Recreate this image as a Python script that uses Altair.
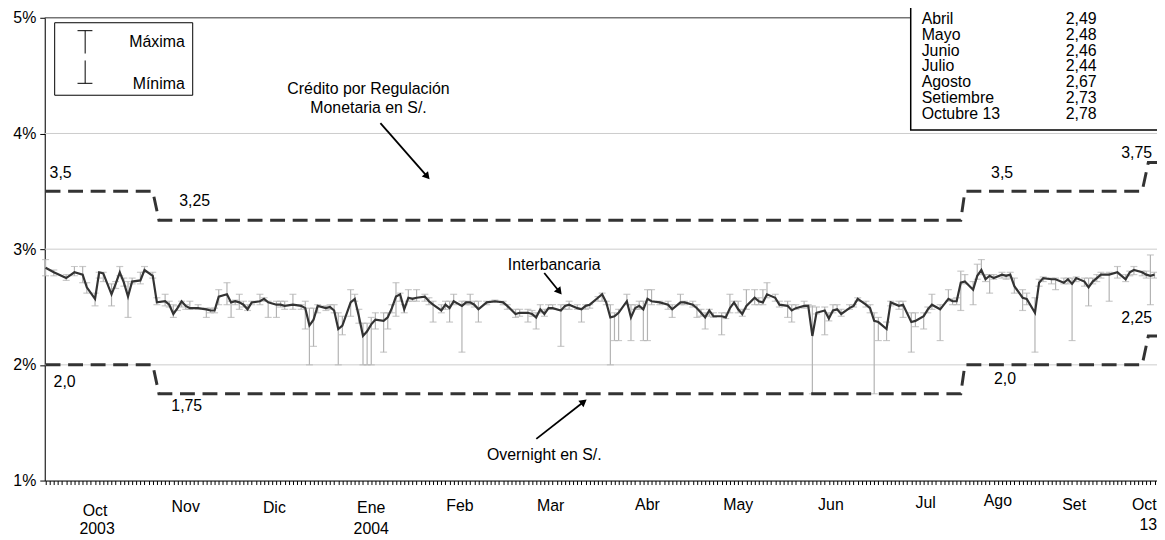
import math
import altair as alt
import pandas as pd

FONT = "Liberation Sans"

# business-day index of each observation (late Sep 2003 - 13 Oct 2004)
days = [0, 2, 5, 7, 9, 10, 12, 13, 14, 16, 17, 18, 19, 20, 21, 23, 24, 26, 27, 29,
        30, 31, 32, 33, 34, 35, 37, 39, 40, 41, 42, 44, 45, 46, 47, 48, 49, 50, 52, 53,
        54, 56, 57, 58, 60, 62, 63, 64, 65, 66, 68, 69, 70, 71, 72, 74, 75, 76, 77, 78,
        79, 80, 82, 83, 84, 85, 86, 87, 88, 89, 90, 92, 93, 94, 96, 97, 98, 99, 101, 102,
        103, 104, 105, 107, 109, 111, 112, 114, 115, 117, 118, 119, 120, 121, 122, 123, 125, 126, 127, 129,
        130, 131, 132, 134, 135, 136, 137, 138, 139, 141, 142, 143, 144, 145, 146, 147, 149, 151, 152, 154,
        155, 157, 158, 159, 160, 161, 162, 164, 165, 166, 167, 168, 169, 170, 172, 173, 174, 175, 177, 178,
        180, 181, 182, 184, 185, 186, 187, 189, 190, 191, 192, 193, 195, 196, 197, 199, 200, 201, 202, 204,
        205, 207, 208, 210, 211, 213, 214, 215, 217, 219, 220, 221, 222, 223, 225, 226, 227, 228, 229, 230,
        232, 233, 234, 235, 237, 238, 240, 241, 242, 244, 245, 247, 248, 249, 250, 252, 253, 254, 255, 256,
        258, 260, 262, 263, 264, 266, 267, 268, 269]
mean = [2.84, 2.80, 2.75, 2.80, 2.78, 2.67, 2.57, 2.80, 2.79, 2.61, 2.70, 2.80, 2.71, 2.59, 2.72, 2.73, 2.82, 2.77, 2.54, 2.55,
        2.52, 2.44, 2.49, 2.55, 2.51, 2.49, 2.49, 2.48, 2.47, 2.47, 2.59, 2.61, 2.54, 2.55, 2.54, 2.52, 2.48, 2.54, 2.55, 2.57,
        2.54, 2.52, 2.52, 2.51, 2.52, 2.51, 2.49, 2.34, 2.39, 2.51, 2.49, 2.50, 2.47, 2.31, 2.34, 2.54, 2.57, 2.42, 2.25, 2.29,
        2.35, 2.39, 2.38, 2.41, 2.49, 2.59, 2.61, 2.48, 2.58, 2.57, 2.58, 2.59, 2.55, 2.52, 2.47, 2.52, 2.49, 2.55, 2.51, 2.54,
        2.54, 2.52, 2.48, 2.54, 2.55, 2.54, 2.51, 2.44, 2.45, 2.45, 2.44, 2.41, 2.48, 2.44, 2.49, 2.49, 2.47, 2.51, 2.52, 2.49,
        2.48, 2.51, 2.52, 2.58, 2.61, 2.54, 2.41, 2.42, 2.45, 2.55, 2.41, 2.49, 2.51, 2.48, 2.57, 2.55, 2.54, 2.52, 2.48, 2.54,
        2.54, 2.52, 2.49, 2.45, 2.41, 2.47, 2.42, 2.42, 2.41, 2.49, 2.54, 2.48, 2.44, 2.51, 2.58, 2.55, 2.54, 2.61, 2.58, 2.52,
        2.51, 2.47, 2.49, 2.51, 2.51, 2.25, 2.45, 2.47, 2.40, 2.47, 2.48, 2.44, 2.49, 2.51, 2.57, 2.52, 2.49, 2.38, 2.37, 2.31,
        2.54, 2.51, 2.52, 2.37, 2.38, 2.42, 2.48, 2.52, 2.48, 2.57, 2.55, 2.55, 2.71, 2.72, 2.65, 2.77, 2.82, 2.74, 2.77, 2.75,
        2.78, 2.77, 2.78, 2.68, 2.58, 2.57, 2.45, 2.71, 2.75, 2.74, 2.74, 2.71, 2.74, 2.70, 2.75, 2.72, 2.67, 2.72, 2.75, 2.78,
        2.78, 2.80, 2.74, 2.80, 2.82, 2.80, 2.78, 2.77, 2.78]
high = [2.91, 2.82, 2.78, 2.85, 2.85, 2.71, 2.62, 2.80, 2.80, 2.70, 2.72, 2.85, 2.75, 2.72, 2.75, 2.80, 2.85, 2.80, 2.58, 2.61,
        2.55, 2.52, 2.51, 2.55, 2.52, 2.55, 2.52, 2.49, 2.49, 2.49, 2.65, 2.71, 2.55, 2.56, 2.61, 2.55, 2.52, 2.55, 2.61, 2.58,
        2.55, 2.55, 2.55, 2.55, 2.61, 2.52, 2.55, 2.49, 2.49, 2.52, 2.51, 2.52, 2.52, 2.45, 2.42, 2.65, 2.61, 2.48, 2.36, 2.36,
        2.41, 2.45, 2.45, 2.45, 2.52, 2.71, 2.62, 2.52, 2.65, 2.58, 2.65, 2.61, 2.58, 2.55, 2.52, 2.55, 2.55, 2.61, 2.55, 2.55,
        2.61, 2.55, 2.55, 2.55, 2.56, 2.55, 2.52, 2.48, 2.48, 2.48, 2.47, 2.45, 2.52, 2.48, 2.52, 2.52, 2.52, 2.52, 2.55, 2.52,
        2.49, 2.52, 2.52, 2.59, 2.62, 2.55, 2.52, 2.45, 2.48, 2.61, 2.52, 2.52, 2.55, 2.55, 2.65, 2.65, 2.55, 2.55, 2.52, 2.61,
        2.55, 2.55, 2.52, 2.48, 2.45, 2.48, 2.45, 2.45, 2.45, 2.61, 2.55, 2.55, 2.48, 2.65, 2.65, 2.58, 2.65, 2.71, 2.61, 2.55,
        2.55, 2.52, 2.52, 2.55, 2.52, 2.51, 2.50, 2.50, 2.45, 2.52, 2.52, 2.48, 2.52, 2.52, 2.58, 2.55, 2.52, 2.45, 2.41, 2.37,
        2.55, 2.55, 2.55, 2.45, 2.45, 2.45, 2.50, 2.61, 2.52, 2.65, 2.57, 2.58, 2.81, 2.78, 2.72, 2.87, 2.91, 2.78, 2.78, 2.78,
        2.80, 2.78, 2.80, 2.75, 2.65, 2.62, 2.58, 2.74, 2.76, 2.75, 2.75, 2.75, 2.75, 2.75, 2.76, 2.75, 2.75, 2.75, 2.78, 2.80,
        2.80, 2.85, 2.78, 2.81, 2.85, 2.81, 2.81, 2.95, 2.80]
low = [2.77, 2.77, 2.73, 2.77, 2.71, 2.62, 2.51, 2.75, 2.72, 2.51, 2.66, 2.77, 2.68, 2.41, 2.70, 2.70, 2.80, 2.75, 2.52, 2.51,
       2.50, 2.41, 2.47, 2.50, 2.48, 2.48, 2.48, 2.41, 2.45, 2.45, 2.52, 2.52, 2.41, 2.52, 2.48, 2.50, 2.47, 2.52, 2.52, 2.55,
       2.41, 2.41, 2.50, 2.48, 2.48, 2.48, 2.31, 2.00, 2.16, 2.45, 2.47, 2.48, 2.45, 2.00, 2.26, 2.42, 2.55, 2.36, 2.00, 2.00,
       2.00, 2.31, 2.11, 2.31, 2.45, 2.42, 2.55, 2.45, 2.55, 2.55, 2.55, 2.55, 2.52, 2.37, 2.45, 2.48, 2.37, 2.52, 2.11, 2.52,
       2.52, 2.50, 2.37, 2.52, 2.54, 2.52, 2.48, 2.41, 2.42, 2.37, 2.42, 2.31, 2.45, 2.42, 2.48, 2.48, 2.16, 2.48, 2.48, 2.48,
       2.37, 2.48, 2.49, 2.55, 2.55, 2.52, 2.00, 2.21, 2.21, 2.52, 2.21, 2.48, 2.48, 2.21, 2.21, 2.52, 2.52, 2.48, 2.41, 2.52,
       2.52, 2.50, 2.41, 2.42, 2.31, 2.42, 2.41, 2.26, 2.40, 2.45, 2.52, 2.45, 2.42, 2.48, 2.52, 2.52, 2.52, 2.58, 2.55, 2.50,
       2.41, 2.37, 2.48, 2.49, 2.50, 1.75, 2.44, 2.26, 2.38, 2.45, 2.47, 2.42, 2.48, 2.50, 2.55, 2.50, 2.45, 1.75, 2.21, 2.21,
       2.51, 2.48, 2.41, 2.11, 2.33, 2.31, 2.45, 2.48, 2.21, 2.55, 2.52, 2.52, 2.47, 2.70, 2.52, 2.74, 2.78, 2.72, 2.62, 2.74,
       2.75, 2.74, 2.75, 2.62, 2.47, 2.52, 2.11, 2.68, 2.72, 2.70, 2.65, 2.70, 2.70, 2.21, 2.72, 2.68, 2.51, 2.70, 2.72, 2.75,
       2.55, 2.75, 2.72, 2.77, 2.78, 2.77, 2.75, 2.52, 2.75]

# corridor of BCRP rates (step changes)
policy_days = [0, 26, 27.5, 222, 223, 266, 267.5, 275]
upper_rate = [3.5, 3.5, 3.25, 3.25, 3.5, 3.5, 3.75, 3.75]
lower_rate = [2.0, 2.0, 1.75, 1.75, 2.0, 2.0, 2.25, 2.25]

# monthly averages table (top right)
table_months = ["Abril", "Mayo", "Junio", "Julio", "Agosto", "Setiembre", "Octubre 13"]
table_values = ["2,49", "2,48", "2,46", "2,44", "2,67", "2,73", "2,78"]

# month labels of the x axis
month_labels = ["Oct", "Nov", "Dic", "Ene", "Feb", "Mar", "Abr", "May", "Jun", "Jul", "Ago", "Set", "Oct"]
month_days = [12, 34, 55.5, 79, 100.5, 122.5, 146, 168, 190.5, 213.5, 231, 249.5, 266.5]
year_labels = ["2003", "2004", "13"]
year_days = [12.5, 79, 267.5]

W, H = 1120, 466
XMIN, XMAX, YMIN, YMAX = -0.2, 269.6, 1, 5
xs = alt.Scale(domain=[XMIN, XMAX], nice=False, zero=False)
ys = alt.Scale(domain=[YMIN, YMAX], nice=False, zero=False)


def pv(py):
    """plot-pixel y -> value on the y scale (for labels placed below the axis)"""
    return YMAX - py * (YMAX - YMIN) / H


X_AX = alt.Axis(values=list(range(270)), labels=False, tickSize=4, tickColor="black",
                domainColor="black", grid=False, tickWidth=1, title=None)
Y_AX = alt.Axis(values=[1, 2, 3, 4, 5], labelExpr="datum.value + '%'", tickSize=5,
                tickColor="black", domainColor="black", grid=False, labelFontSize=16,
                labelFont=FONT, labelColor="black", labelPadding=4, title=None)


def X(f):
    return alt.X(f, type="quantitative", scale=xs, axis=X_AX)


def Y(f):
    return alt.Y(f, type="quantitative", scale=ys, axis=Y_AX)


EB = "#b3b3b3"
DK = "#333333"
one = alt.Data(values=[{}])


def ptext(s, x, y, align="center", size=16):
    return alt.Chart(one).mark_text(text=s, align=align, baseline="middle", fontSize=size,
                                    font=FONT, color="black").encode(x=alt.value(x), y=alt.value(y))


def pline(x1, y1, x2, y2, color="black", width=1.0):
    return alt.Chart(one).mark_rule(color=color, strokeWidth=width).encode(
        x=alt.value(x1), y=alt.value(y1), x2=alt.value(x2), y2=alt.value(y2))


def prect(x1, y1, x2, y2, width=1.0):
    return alt.Chart(one).mark_rect(fill="white", stroke="black", strokeWidth=width).encode(
        x=alt.value(x1), y=alt.value(y1), x2=alt.value(x2), y2=alt.value(y2))


def arrow(x1, y1, x2, y2, angle):
    L = math.hypot(x2 - x1, y2 - y1)
    ux, uy = (x2 - x1) / L, (y2 - y1) / L
    cx, cy = x2 - ux * 4, y2 - uy * 4
    head = alt.Chart(one).mark_point(shape="triangle", filled=True, size=70, angle=angle,
                                     color="black", opacity=1).encode(x=alt.value(cx), y=alt.value(cy))
    return [pline(x1, y1, cx, cy, width=1.8), head]


df = pd.DataFrame({"day": days, "mean": mean, "high": high, "low": low})
pol = pd.DataFrame({"day": policy_days, "upper": upper_rate, "lower": lower_rate})

base = alt.Chart(df)
# first layer carries the axes (invisible points)
axes_layer = base.mark_point(opacity=0).encode(x=X("day"), y=Y("mean"))
grid = alt.Chart(pd.DataFrame({"v": [2, 3, 4]})).mark_rule(color="#cccccc", strokeWidth=1).encode(y=Y("v"))
top = alt.Chart(pd.DataFrame({"v": [5]})).mark_rule(color="#444444", strokeWidth=1).encode(y=Y("v"))

bars = base.mark_rule(color=EB, strokeWidth=1.2).encode(x=X("day"), y=Y("low"), y2="high:Q")
cap_hi = base.mark_tick(orient="horizontal", size=7, thickness=1.2, color=EB).encode(x=X("day"), y=Y("high"))
cap_lo = base.mark_tick(orient="horizontal", size=7, thickness=1.2, color=EB).encode(x=X("day"), y=Y("low"))
line = base.mark_line(color=DK, strokeWidth=2.2).encode(x=X("day"), y=Y("mean"))

pbase = alt.Chart(pol)
up = pbase.mark_line(color=DK, strokeWidth=3, strokeDash=[15, 7.7], clip=True).encode(x=X("day"), y=Y("upper"))
lo = pbase.mark_line(color=DK, strokeWidth=3, strokeDash=[15, 7.7], clip=True).encode(x=X("day"), y=Y("lower"))

layers = [axes_layer, grid, top, bars, cap_hi, cap_lo, line, up, lo]

# legend box (top left)
layers += [prect(10, 5, 149, 78),
           pline(40.7, 13, 40.7, 36), pline(33, 13, 48, 13),
           pline(40.7, 43, 40.7, 66), pline(33, 66, 48, 66),
           ptext("Máxima", 141, 24, align="right"), ptext("Mínima", 141, 67, align="right")]

# table box (top right)
layers.append(prect(872, -40, 1200, 113, width=1.5))
row_y = [1, 17, 33, 49, 65, 81, 97]
for m, v, yy in zip(table_months, table_values, row_y):
    layers += [ptext(m, 883, yy, align="left"), ptext(v, 1028, yy, align="left")]

# annotations
layers += [ptext("Crédito por Regulación", 326, 72), ptext("Monetaria en S/.", 326, 91)]
layers += arrow(338, 106, 387, 162, 139)
layers += [ptext("Interbancaria", 513, 249)]
layers += arrow(503, 257, 520, 278, 141)
layers += [ptext("Overnight en S/.", 503, 440)]
layers += arrow(495, 424, 545, 385, 52)

layers += [ptext("3,5", 16, 156), ptext("3,25", 151, 185), ptext("2,0", 20, 367), ptext("1,75", 143, 391),
           ptext("3,5", 964, 156), ptext("2,0", 967, 364),
           ptext("3,75", 1084, 136, align="left"), ptext("2,25", 1084, 302, align="left")]

# month / year labels under the axis (staggered like the original)
month_py = [497, 493, 494, 494, 491.5, 491.5, 491, 491, 491, 489, 487, 491, 491]
year_py = [515, 515, 511]
lab_df = pd.DataFrame({
    "day": month_days + year_days,
    "yv": [pv(p) for p in month_py + year_py],
    "label": month_labels + year_labels,
})
labels = alt.Chart(lab_df).mark_text(fontSize=16, font=FONT, color="black", baseline="middle",
                                     clip=False).encode(x=X("day"), y=Y("yv"), text="label:N")
layers.append(labels)

chart = alt.layer(*layers).properties(
    width=W, height=H,
    padding={"left": 37, "top": 8, "right": 0, "bottom": 56},
    autosize=alt.AutoSizeParams(type="none"),
).configure_view(stroke=None).configure(font=FONT)

chart.save("out.html", embed_options={"renderer": "svg", "actions": False})
